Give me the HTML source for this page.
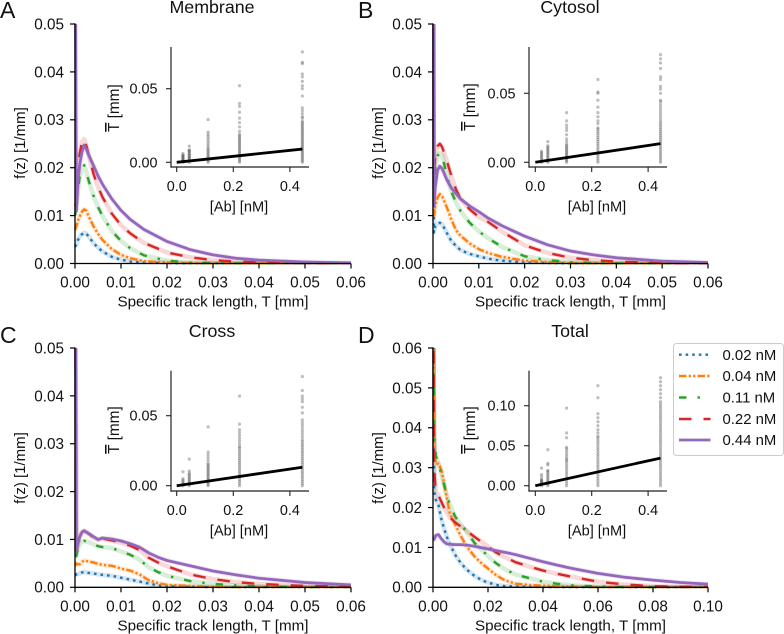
<!DOCTYPE html>
<html lang="en">
<head>
<meta charset="utf-8">
<title>Specific track length distributions</title>
<style>
html,body{margin:0;padding:0;background:#fff;}
#figure{display:block;width:784px;height:634px;font-family:"Liberation Sans",sans-serif;fill:#111;}
</style>
</head>
<body>
<svg id="figure" xmlns="http://www.w3.org/2000/svg" width="784" height="634" viewBox="0 0 784 634">
  <g id="stage"></g>
  <g>
    <rect x="673.5" y="343.5" width="110" height="112" rx="3" fill="#fff" stroke="#ccc" stroke-width="1"/>
    <g id="legend-items"></g>
  </g>
</svg>
<script>
// Concentrations and legend labels
const concentrations = [0.0222, 0.0444, 0.111, 0.222, 0.444];
const seriesLabels = ['0.02 nM', '0.04 nM', '0.11 nM', '0.22 nM', '0.44 nM'];

// Panel A: Membrane
const gridA = [0,.0003,.0006,.001,.0015,.002,.0025,.003,.004,.005,.006,.008,.01,.012,.015,.02,.025,.03,.035,.04,.05,.06];
const membrane002 = [.0035,.004,.0048,.0056,.0061,.0064,.0062,.0056,.0043,.0033,.0025,.0014,.0008,.0004,.0002,.0001,0,0,0,0,0,0];
const membrane004 = [.007,.0078,.0088,.0098,.0108,.0113,.011,.0098,.0078,.0062,.0049,.003,.0018,.0011,.0005,.0002,.0001,0,0,0,0,0];
const membrane011 = [.010,.012,.015,.018,.0198,.0205,.019,.0172,.0142,.0118,.0099,.0068,.0047,.0032,.0017,.0006,.0002,.0001,0,0,0,0];
const membrane022 = [.012,.013,.018,.0228,.0253,.026,.0245,.0225,.0188,.016,.0138,.0104,.008,.0063,.0043,.0023,.0013,.0007,.0004,.0002,.0001,0];
const membrane044 = [.08,.011,.017,.0205,.0232,.0247,.0238,.0226,.0205,.0183,.0165,.0135,.0111,.0092,.0071,.0046,.0029,.0018,.0011,.0007,.0003,.0001];

// Panel B: Cytosol
const gridB = [0,.0002,.0005,.001,.0015,.002,.003,.004,.005,.006,.008,.01,.012,.015,.02,.025,.03,.035,.04,.05,.06];
const cytosol002 = [.08,.0065,.0078,.0083,.0085,.0082,.0064,.0047,.0037,.0028,.002,.0015,.001,.0006,.0002,.0001,0,0,0,0,0];
const cytosol004 = [.08,.010,.012,.0138,.0145,.014,.0118,.0092,.0070,.0058,.0042,.003,.0022,.0014,.0006,.0003,.0001,0,0,0,0];
const cytosol011 = [.08,.016,.020,.0225,.023,.0225,.0185,.0150,.0128,.011,.0085,.0067,.0053,.0035,.0015,.0007,.0003,.0001,0,0,0];
const cytosol022 = [.08,.019,.0225,.0245,.025,.0243,.0215,.0183,.0155,.0135,.0113,.0097,.0087,.0067,.0038,.0022,.0012,.0007,.0004,.0001,0];
const cytosol044 = [.08,.012,.016,.0195,.0203,.0198,.0175,.0158,.0146,.0135,.0120,.0108,.0095,.0079,.0057,.0039,.0026,.0018,.0012,.0005,.0002];

// Panel C: Cross
const gridC = [0,.0003,.0006,.001,.0015,.002,.003,.004,.005,.006,.008,.01,.012,.014,.016,.018,.02,.025,.03,.035,.04,.05,.06];
const cross002 = [.0025,.0027,.0028,.0029,.0031,.0032,.003,.0029,.0027,.0026,.0024,.002,.0016,.0012,.0008,.0004,.0002,.0001,0,0,0,0,0];
const cross004 = [.0045,.005,.0048,.0048,.0053,.0056,.0054,.0052,.0049,.0047,.0045,.0039,.0035,.0027,.0015,.0009,.0005,.0003,.0001,0,0,0,0];
const cross011 = [.08,.0065,.008,.0090,.0095,.0097,.0094,.009,.0086,.0084,.0082,.0075,.0068,.0058,.0042,.0032,.0024,.0013,.0007,.0004,.0002,0,0];
const cross022 = [.08,.0075,.009,.0105,.0115,.0118,.0112,.0104,.0099,.0102,.0098,.0093,.0087,.0078,.0062,.0052,.0044,.0027,.0017,.0011,.0007,.0003,.0001];
const cross044 = [.08,.0075,.009,.0105,.0115,.0118,.0112,.0106,.0100,.0103,.0101,.0097,.0091,.0084,.0072,.0063,.0056,.0045,.0034,.0026,.0019,.001,.0005];

// Panel D: Total
const gridD = [0,.0004,.001,.002,.003,.004,.005,.006,.008,.01,.012,.015,.018,.02,.023,.026,.03,.035,.04,.045,.05,.06,.07,.08,.09,.1];
const total002 = [.09,.024,.022,.0206,.0172,.0148,.0127,.0110,.0082,.0062,.0046,.0029,.0017,.0012,.0006,.0003,.0002,.0001,0,0,0,0,0,0,0,0];
const total004 = [.09,.036,.031,.031,.0295,.0262,.0225,.0188,.0158,.0130,.0105,.0078,.0058,.0047,.0030,.0018,.0009,.0006,.0004,.0003,.0002,0,0,0,0,0];
const total011 = [.09,.038,.033,.031,.0285,.0258,.0231,.021,.0178,.0158,.0142,.0112,.0092,.0078,.006,.0046,.0032,.0023,.0014,.0009,.0005,.0002,0,0,0,0];
const total022 = [.09,.03,.024,.023,.0215,.02,.0187,.0177,.0163,.0153,.0143,.0127,.0112,.0102,.0087,.0076,.0063,.0052,.0042,.0034,.0027,.0014,.0007,.0003,.0001,.0001];
const total044 = [.012,.012,.013,.0132,.0122,.0114,.0109,.0108,.0107,.0107,.0106,.0103,.0099,.0096,.0092,.0088,.0082,.0073,.0064,.0056,.0048,.0035,.0025,.0018,.0012,.0008];

// Inset scatter values (mean track length per cell, mm)
const membraneDots002 = [0,.0005,.001,.0015,.002,.0025,.003,.0035,.004,.0045,.005,.006];
const membraneDots004 = [0,.0008,.0015,.002,.003,.0035,.004,.005,.0055,.006,.007,.0075,.008,.0085,.011];
const membraneDots011 = [0,.001,.002,.003,.004,.005,.006,.007,.008,.009,.01,.0115,.013,.0145,.016,.0175,.019,.0205,.029];
const membraneDots022 = [0,.001,.002,.003,.004,.005,.006,.007,.008,.009,.01,.011,.012,.013,.014,.015,.016,.017,.018,.019,.021,.024,.027,.03,.034,.038,.04,.052];
const membraneDots044 = [0,.001,.002,.003,.004,.005,.006,.007,.008,.009,.01,.011,.012,.013,.014,.015,.016,.017,.018,.019,.02,.021,.022,.023,.024,.025,.026,.027,.028,.03,.031,.033,.035,.037,.045,.05,.052,.055,.058,.06,.067,.068,.075];

const cytosolDots002 = [0,.001,.002,.003,.004,.005,.006,.007,.008];
const cytosolDots004 = [0,.001,.002,.003,.004,.005,.006,.007,.008,.009,.01,.011,.012,.015];
const cytosolDots011 = [0,.001,.002,.003,.004,.005,.006,.007,.008,.009,.01,.011,.012,.013,.015,.017,.02,.023,.025,.027,.03,.036];
const cytosolDots022 = [0,.0015,.003,.0045,.006,.0075,.009,.0105,.012,.0135,.015,.0165,.018,.0195,.021,.0225,.024,.025,.028,.03,.033,.036,.04,.045,.05,.051,.06];
const cytosolDots044 = [0,.0015,.003,.0045,.006,.0075,.009,.0105,.012,.0135,.015,.0165,.018,.0195,.021,.0225,.024,.0255,.027,.0285,.03,.032,.034,.036,.038,.04,.042,.044,.045,.05,.053,.055,.06,.062,.068,.072,.075,.078];

const crossDots002 = [0,.001,.002,.003,.004,.005,.01];
const crossDots004 = [0,.001,.002,.003,.004,.005,.006,.007,.008,.009,.0105,.019];
const crossDots011 = [0,.001,.002,.003,.004,.005,.006,.007,.008,.009,.01,.011,.012,.013,.014,.015,.016,.018,.02,.022,.024,.042];
const crossDots022 = [0,.0015,.003,.0045,.006,.0075,.009,.0105,.012,.0135,.015,.0165,.018,.0195,.021,.0225,.024,.0255,.027,.028,.03,.032,.034,.036,.038,.04,.044,.064];
const crossDots044 = [0,.0015,.003,.0045,.006,.0075,.009,.0105,.012,.0135,.015,.0165,.018,.0195,.021,.0225,.024,.0255,.027,.0285,.03,.0315,.033,.035,.037,.039,.041,.043,.045,.047,.052,.056,.06,.062,.064,.068,.078];

const totalDots002 = [0,.002,.003,.004,.005,.006,.007,.008,.011,.014,.022];
const totalDots004 = [0,.002,.004,.006,.008,.01,.012,.014,.016,.018,.019,.026,.028,.045];
const totalDots011 = [0,.003,.006,.009,.012,.015,.018,.021,.024,.027,.03,.032,.034,.037,.04,.043,.046,.048,.06,.066,.097];
const totalDots022 = [0,.003,.006,.009,.012,.015,.018,.021,.024,.027,.03,.033,.036,.039,.042,.045,.048,.051,.054,.057,.06,.062,.066,.07,.075,.08,.085,.09,.11,.125];
const totalDots044 = [0,.003,.006,.009,.012,.015,.018,.021,.024,.027,.03,.033,.036,.039,.042,.045,.048,.051,.054,.057,.06,.063,.066,.069,.072,.075,.078,.081,.084,.087,.09,.093,.096,.099,.102,.105,.11,.115,.12,.125,.13,.135];

// Fitted line through each inset: concentration endpoints and fitted means
const fitX = [0, 0.444];
const fitMembrane = [0, .009];
const fitCytosol = [0, .0135];
const fitCross = [0, .0132];
const fitTotal = [0, .0345];

// Tick labels
const xTicksShort = [0, .01, .02, .03, .04, .05, .06];
const xTicksLong = [0, .02, .04, .06, .08, .10];
const yTicksFive = [0, .01, .02, .03, .04, .05];
const yTicksSix = [0, .01, .02, .03, .04, .05, .06];
const insetXTicks = [0, .2, .4];
const insetYTicksSmall = [0, .05];
const insetYTicksLarge = [0, .05, .10];

const SVGNS = 'http://www.w3.org/2000/svg';
const lineStyles = [
  {color:'#1f77b4', dash:'2.6 4', width:2.4, cap:'butt'},
  {color:'#ff7f0e', dash:'7.5 2.2 2.2 2.2 2.2 2.2', width:2.4, cap:'butt'},
  {color:'#2ca02c', dash:'7.5 11 2.4 11', width:2.4, cap:'butt'},
  {color:'#d62728', dash:'12.5 12', width:2.4, cap:'butt'},
  {color:'#9467bd', dash:'', width:2.8, cap:'butt'}
];

const panels = [
  {key:'membrane', letter:'A', title:'Membrane', left:75, right:351, top:24, bottom:263.5, letterX:0, letterY:18, titleX:212, titleY:13, xMax:.06, yMax:.05,
   xTicks:xTicksShort, yTicks:yTicksFive, xFormat:2, grid:gridA, series:[membrane002,membrane004,membrane011,membrane022,membrane044],
   ylabelX:25, ylabelY:143,
   inset:{left:171, right:309, top:47, bottom:167, x0:176.7, xPer:283, y0:162.3, yPer:1472, ticks:insetYTicksSmall, labelX:119, labelY:108, dots:[membraneDots002,membraneDots004,membraneDots011,membraneDots022,membraneDots044], fit:fitMembrane}},
  {key:'cytosol', letter:'B', title:'Cytosol', left:433, right:708, top:24, bottom:263.5, letterX:358, letterY:18, titleX:570, titleY:13, xMax:.06, yMax:.05,
   xTicks:xTicksShort, yTicks:yTicksFive, xFormat:2, grid:gridB, series:[cytosol002,cytosol004,cytosol011,cytosol022,cytosol044],
   ylabelX:383, ylabelY:143,
   inset:{left:529, right:667, top:47, bottom:167, x0:535.3, xPer:282, y0:162.3, yPer:1380, ticks:insetYTicksSmall, labelX:475, labelY:107, dots:[cytosolDots002,cytosolDots004,cytosolDots011,cytosolDots022,cytosolDots044], fit:fitCytosol}},
  {key:'cross', letter:'C', title:'Cross', left:75, right:351, top:348, bottom:587.3, letterX:0, letterY:343, titleX:212, titleY:337, xMax:.06, yMax:.05,
   xTicks:xTicksShort, yTicks:yTicksFive, xFormat:2, grid:gridC, series:[cross002,cross004,cross011,cross022,cross044],
   ylabelX:25, ylabelY:468,
   inset:{left:171, right:309, top:370.7, bottom:491, x0:176.7, xPer:283, y0:485.7, yPer:1400, ticks:insetYTicksSmall, labelX:119, labelY:430, dots:[crossDots002,crossDots004,crossDots011,crossDots022,crossDots044], fit:fitCross}},
  {key:'total', letter:'D', title:'Total', left:433, right:708, top:348, bottom:587.3, letterX:358, letterY:343, titleX:570, titleY:337, xMax:.10, yMax:.06,
   xTicks:xTicksLong, yTicks:yTicksSix, xFormat:2, grid:gridD, series:[total002,total004,total011,total022,total044],
   ylabelX:383, ylabelY:468,
   inset:{left:529, right:667, top:370.7, bottom:491, x0:535.3, xPer:282, y0:485.7, yPer:800, ticks:insetYTicksLarge, labelX:475, labelY:430, dots:[totalDots002,totalDots004,totalDots011,totalDots022,totalDots044], fit:fitTotal}}
];

function make(tag, attrs, parent) {
  const el = document.createElementNS(SVGNS, tag);
  for (const k in attrs) el.setAttribute(k, attrs[k]);
  parent.appendChild(el);
  return el;
}
function drawSegment(parent, name, x1, y1, x2, y2, width, color) {
  const el = make('line', {x1:x1, y1:y1, x2:x2, y2:y2, stroke:color, 'stroke-width':width}, parent);
  
  
  return el;
}
function drawText(parent, name, str, x, y, size, anchor, rotate) {
  const el = make('text', {x:x, y:y, 'font-size':size, 'text-anchor':anchor}, parent);
  if (rotate) el.setAttribute('transform', 'rotate(-90 ' + x + ' ' + y + ')');
  el.textContent = str;
  
  
  return el;
}

const stage = document.getElementById('stage');

panels.forEach(function (p) {
  const g = make('g', {}, stage);
  
  

  const sx = function (v) { return p.left + (p.right - p.left) * v / p.xMax; };
  const sy = function (v) { return p.bottom - (p.bottom - p.top) * v / p.yMax; };

  const clip = make('clipPath', {id:'clip-' + p.key}, g);
  make('rect', {x:p.left - 1, y:p.top, width:p.right - p.left + 1, height:p.bottom - p.top + 1}, clip);

  const plot = make('g', {'clip-path':'url(#clip-' + p.key + ')'}, g);
  
  

  p.series.forEach(function (values, i) {
    const pts = values.map(function (v, k) { return sx(p.grid[k]).toFixed(2) + ',' + sy(v).toFixed(2); }).join(' ');
    const band = make('polyline', {points:pts, fill:'none', stroke:lineStyles[i].color, 'stroke-opacity':.18, 'stroke-width':4.6, 'stroke-linejoin':'round'}, plot);
    
    
  });
  p.series.forEach(function (values, i) {
    const st = lineStyles[i];
    const pts = values.map(function (v, k) { return sx(p.grid[k]).toFixed(2) + ',' + sy(v).toFixed(2); }).join(' ');
    const line = make('polyline', {points:pts, fill:'none', stroke:st.color, 'stroke-width':st.width, 'stroke-linejoin':'round', 'stroke-linecap':st.cap}, plot);
    if (st.dash) line.setAttribute('stroke-dasharray', st.dash);
    
    
  });

  drawSegment(g, 'y-axis-line', p.left, p.top - .6, p.left, p.bottom + .6, 1.3, '#000');
  drawSegment(g, 'x-axis-line', p.left - .6, p.bottom, p.right, p.bottom, 1.3, '#000');

  p.xTicks.forEach(function (t) {
    drawSegment(g, 'x-tick', sx(t), p.bottom, sx(t), p.bottom + 5, 1.2, '#000');
    drawText(g, 'x-tick-label', t.toFixed(p.xFormat), sx(t), p.bottom + 24.2, 15.3, 'middle');
  });
  p.yTicks.forEach(function (t) {
    drawSegment(g, 'y-tick', p.left - 5, sy(t), p.left, sy(t), 1.2, '#000');
    drawText(g, 'y-tick-label', t.toFixed(2), p.left - 11, sy(t) + 5.4, 15.3, 'end');
  });

  drawText(g, 'x-axis-title', 'Specific track length, T [mm]', (p.left + p.right) / 2, p.bottom + 43, 15.2, 'middle');
  drawText(g, 'y-axis-title', 'f(z) [1/mm]', p.ylabelX, p.ylabelY, 15, 'middle', true);
  drawText(g, 'panel-title', p.title, p.titleX, p.titleY, 17.8, 'middle');
  drawText(g, 'panel-letter', p.letter, p.letterX, p.letterY, 23, 'start');

  const ins = p.inset;
  const ig = make('g', {}, g);
  
  
  const ix = function (v) { return ins.x0 + ins.xPer * v; };
  const iy = function (v) { return ins.y0 - ins.yPer * v; };

  ins.dots.forEach(function (values, i) {
    values.forEach(function (v) {
      const dot = make('circle', {cx:ix(concentrations[i]).toFixed(2), cy:iy(v).toFixed(2), r:1.6, fill:'#555', 'fill-opacity':.38}, ig);
      
      
    });
  });

  const fit = make('line', {x1:ix(fitX[0]), y1:iy(ins.fit[0]), x2:ix(fitX[1]), y2:iy(ins.fit[1]), stroke:'#000', 'stroke-width':2.8}, ig);
  
  

  drawSegment(ig, 'inset-y-axis-line', ins.left, ins.top, ins.left, ins.bottom + .6, 1.2, '#222');
  drawSegment(ig, 'inset-x-axis-line', ins.left - .6, ins.bottom, ins.right, ins.bottom, 1.2, '#222');

  insetXTicks.forEach(function (t) {
    drawSegment(ig, 'inset-x-tick', ix(t), ins.bottom, ix(t), ins.bottom + 5, 1.1, '#222');
    drawText(ig, 'inset-x-tick-label', t.toFixed(1), ix(t), ins.bottom + 24, 14.4, 'middle');
  });
  ins.ticks.forEach(function (t) {
    drawSegment(ig, 'inset-y-tick', ins.left - 5, iy(t), ins.left, iy(t), 1.1, '#222');
    drawText(ig, 'inset-y-tick-label', t.toFixed(2), ins.left - 13.5, iy(t) + 5, 14.4, 'end');
  });
  drawText(ig, 'inset-x-axis-title', '[Ab] [nM]', ins.left + 68, ins.bottom + 44.7, 14.6, 'middle');

  const yl = drawText(ig, 'inset-y-axis-title', '', ins.labelX, ins.labelY, 15.4, 'middle', true);
  const tBar = make('tspan', {'text-decoration':'overline'}, yl);
  tBar.textContent = 'T';
  const unit = make('tspan', {}, yl);
  unit.textContent = ' [mm]';
});

const legendItems = document.getElementById('legend-items');
const legendRows = [354.7, 376, 397.5, 419, 440];
seriesLabels.forEach(function (label, i) {
  const st = lineStyles[i];
  const row = make('g', {}, legendItems);
  
  
  const handle = make('line', {x1:679, x2:710.5, y1:legendRows[i], y2:legendRows[i], stroke:st.color, 'stroke-width':st.width}, row);
  if (st.dash) handle.setAttribute('stroke-dasharray', st.dash);
  
  
  drawText(row, 'legend-label', label, 722.5, legendRows[i] + 5.2, 14.9, 'start');
});
</script>
</body>
</html>
